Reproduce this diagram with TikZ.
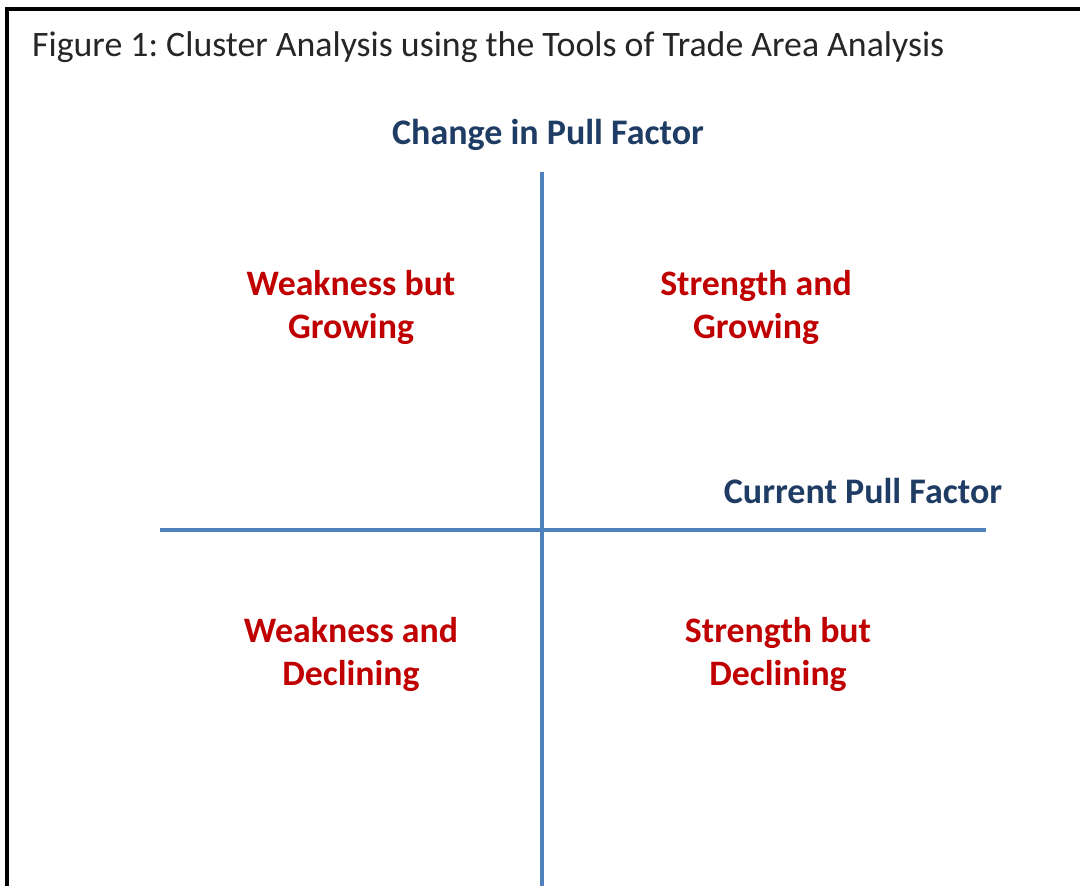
\documentclass[tikz,border=0pt]{standalone}
\usepackage{fontspec}
\setmainfont{Carlito}
\frenchspacing
\definecolor{axisblue}{HTML}{4F81BD}
\definecolor{labelnavy}{HTML}{1F3D64}
\definecolor{quadred}{HTML}{C00000}
\definecolor{titlegray}{HTML}{262626}
\begin{document}
\begin{tikzpicture}[x=1pt,y=-1pt,
  axislabel/.style={font=\fontsize{36}{43}\selectfont\bfseries, text=labelnavy, inner sep=0pt},
  quadrant/.style={font=\fontsize{35.8}{43}\selectfont\bfseries, text=quadred, align=center, inner sep=0pt},
  axisline/.style={draw=axisblue, line width=4.5pt}]
  \useasboundingbox (0,0) rectangle (1080,886);
  \fill[white] (0,0) rectangle (1080,886);
  % frame along the top and left edges
  \draw[line width=4pt, black] (7,886) -- (7,9) -- (1080,9);
  % title
  \node[anchor=west, inner sep=0pt, text=titlegray, font=\fontsize{35.8}{43}\selectfont] (title) at (32,47)
    {Figure 1: Cluster Analysis using the Tools of Trade Area Analysis};
  % axes
  \coordinate (vtop) at (542,172);
  \coordinate (vbot) at (542,886);
  \coordinate (hleft) at (160,530);
  \coordinate (hright) at (986,530);
  \draw[axisline] (vtop) -- (vbot);
  \draw[axisline] (hleft) -- (hright);
  % axis labels
  \node[axislabel] (ylab) at (548,135) {Change in Pull Factor};
  \node[axislabel] (xlab) at (863,491) {Current Pull Factor};
  % quadrant labels
  \node[quadrant] (q2) at (351,307) {Weakness but\\Growing};
  \node[quadrant] (q1) at (756,307) {Strength and\\Growing};
  \node[quadrant] (q3) at (351,654) {Weakness and\\Declining};
  \node[quadrant] (q4) at (778,654) {Strength but\\Declining};
\end{tikzpicture}
\end{document}
